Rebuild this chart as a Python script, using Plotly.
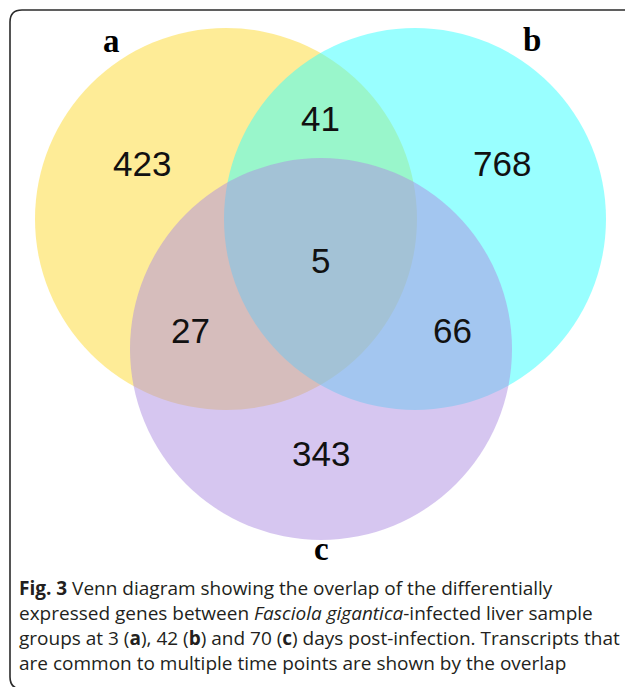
import plotly.graph_objects as go

# ---- data ----------------------------------------------------------------
set_names = ["a", "b", "c"]          # 3, 42 and 70 days post-infection
region_keys = ["a", "ab", "b", "abc", "ac", "bc", "c"]
region_counts = [423, 41, 768, 5, 27, 66, 343]

# ---- geometry / style ------------------------------------------------------
W, H = 625, 687
circle_geom = {          # centre x, centre y, radius (pixels, y down)
    "a": (226, 219, 191),
    "b": (415, 219, 191),
    "c": (321, 349, 191),
}
circle_fill = {"a": "#FDD92F", "b": "#33FFFF", "c": "#AD8DE1"}
region_pos = {
    "a": (142, 163), "ab": (320, 118), "b": (502, 163),
    "abc": (320, 260), "ac": (190, 330), "bc": (452, 330),
    "c": (321, 453),
}
set_label_pos = {"a": (111, 41), "b": (532, 40), "c": (321, 549)}

fig = go.Figure()

shapes = []
# frame around the figure (open on the right, as in the journal layout)
r = 12
x0, y0, x1, y1 = 10, 10, 660, 689
shapes.append(dict(
    type="path", xref="x", yref="y",
    path=(f"M {x1},{y0} L {x0 + r},{y0} Q {x0},{y0} {x0},{y0 + r} "
          f"L {x0},{y1 - r} Q {x0},{y1} {x0 + r},{y1} L {x1},{y1}"),
    line=dict(color="#2b2b2b", width=1.6), fillcolor="rgba(0,0,0,0)",
    layer="above",
))

for name in set_names:
    cx, cy, rad = circle_geom[name]
    shapes.append(dict(
        type="circle", xref="x", yref="y",
        x0=cx - rad, x1=cx + rad, y0=cy - rad, y1=cy + rad,
        fillcolor=circle_fill[name], opacity=0.5,
        line=dict(width=0), layer="below",
    ))

annotations = []
for key, count in zip(region_keys, region_counts):
    x, y = region_pos[key]
    annotations.append(dict(
        x=x, y=y, xref="x", yref="y", text=str(count), showarrow=False,
        font=dict(family="Liberation Sans, Arial", size=35, color="#111111"),
        xanchor="center", yanchor="middle",
    ))

for name in set_names:
    x, y = set_label_pos[name]
    annotations.append(dict(
        x=x, y=y, xref="x", yref="y", text=f"<b>{name}</b>", showarrow=False,
        font=dict(family="Liberation Serif, Times New Roman", size=33,
                  color="#000000"),
        xanchor="center", yanchor="middle",
    ))

caption_lines = [
    "<b>Fig. 3</b> Venn diagram showing the overlap of the differentially",
    "expressed genes between <i>Fasciola gigantica</i>-infected liver sample",
    "groups at 3 (<b>a</b>), 42 (<b>b</b>) and 70 (<b>c</b>) days post-infection. Transcripts that",
    "are common to multiple time points are shown by the overlap",
]
for i, line in enumerate(caption_lines):
    annotations.append(dict(
        x=17, y=588 + 25 * i, xref="x", yref="y", text=line, showarrow=False,
        font=dict(family="Open Sans", size=19, color="#231f20"),
        xanchor="left", yanchor="middle", align="left",
    ))

fig.add_trace(go.Scatter(x=[0, W], y=[0, H], mode="markers",
                         marker=dict(opacity=0), hoverinfo="skip",
                         showlegend=False))

fig.update_layout(
    width=W, height=H, margin=dict(l=0, r=0, t=0, b=0),
    paper_bgcolor="white", plot_bgcolor="white",
    xaxis=dict(range=[0, W], visible=False, fixedrange=True),
    yaxis=dict(range=[H, 0], visible=False, fixedrange=True),
    shapes=shapes, annotations=annotations, showlegend=False,
)

fig.write_html("out.html")
